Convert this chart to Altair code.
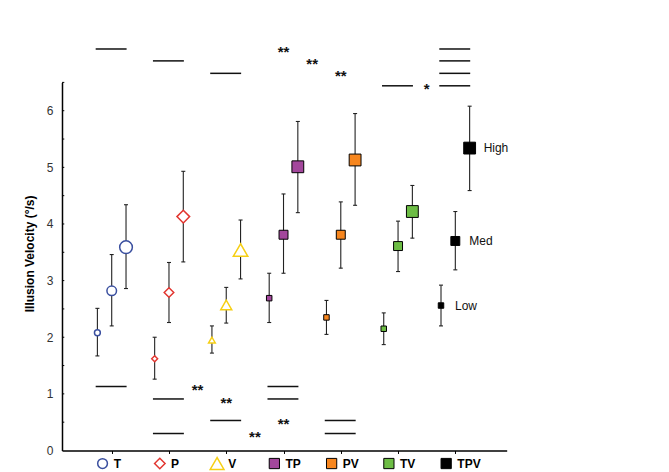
import altair as alt
import pandas as pd

# ---------------- data ----------------
conditions = ["T", "P", "V", "TP", "PV", "TV", "TPV"]
levels = ["Low", "Med", "High"]

mean_low = [2.08, 1.62, 1.95, 2.69, 2.35, 2.15, 2.56]
upper_low = [2.51, 2.00, 2.20, 3.13, 2.65, 2.43, 2.92]
lower_low = [1.67, 1.26, 1.72, 2.26, 2.05, 1.87, 2.20]

mean_med = [2.82, 2.79, 2.57, 3.81, 3.81, 3.61, 3.70]
upper_med = [3.46, 3.32, 2.88, 4.53, 4.39, 4.05, 4.22]
lower_med = [2.20, 2.26, 2.25, 3.13, 3.22, 3.16, 3.19]

mean_high = [3.59, 4.13, 3.54, 5.01, 5.13, 4.22, 5.34]
upper_high = [4.34, 4.93, 4.07, 5.81, 5.95, 4.68, 6.08]
lower_high = [2.86, 3.33, 3.03, 4.20, 4.33, 3.75, 4.59]

# significance bars (condition, height)
sig_line_cond = ["T", "P", "V", "TV", "TPV", "TPV", "TPV", "TPV",
                 "T", "P", "P", "V", "TP", "TP", "PV", "PV"]
sig_line_y = [7.09, 6.88, 6.66, 6.44, 7.09, 6.88, 6.66, 6.44,
              1.13, 0.91, 0.30, 0.53, 1.13, 0.91, 0.53, 0.30]

# significance stars (text, position between conditions, height)
star_text = ["**", "**", "**", "*", "**", "**", "**", "**"]
star_x = [3.0, 3.5, 4.0, 5.5, 1.5, 2.0, 2.5, 3.0]
star_y = [7.09, 6.88, 6.66, 6.44, 1.12, 0.89, 0.29, 0.52]

y_tick_labels = [0, 1, 2, 3, 4, 5, 6]
y_title = "Illusion Velocity (°/s)"

# ---------------- styles ----------------
FONT = "Liberation Sans"
level_offset = {"Low": -0.25, "Med": 0.0, "High": 0.25}
shape_map = {"T": "circle", "P": "diamond", "V": "triangle-up", "TP": "square",
             "PV": "square", "TV": "square", "TPV": "square"}
fill_map = {"T": "white", "P": "white", "V": "white", "TP": "#a3479c",
            "PV": "#f7861e", "TV": "#6dbd45", "TPV": "#000000"}
stroke_map = {"T": "#3a4f9f", "P": "#e2352f", "V": "#f6cf14", "TP": "#000000",
              "PV": "#000000", "TV": "#000000", "TPV": "#000000"}
base_size = {"Low": 30, "Med": 80, "High": 140}
shape_mult = {"circle": 1.15, "diamond": 1.15, "triangle-up": 1.5, "square": 1.0}
legend_size = {"circle": 95, "diamond": 110, "triangle-up": 190, "square": 105}

XMIN, XMAX = -0.868, 6.897
xscale = alt.Scale(domain=[XMIN, XMAX], nice=False, zero=False)
yscale = alt.Scale(domain=[0, 6.5], nice=False, zero=False)

x_axis = alt.Axis(values=list(range(7)), labels=False, ticks=True, tickSize=3,
                  tickColor="#000", tickWidth=1, domainColor="#000",
                  domainWidth=1.5, grid=False, title=None)
y_axis = alt.Axis(values=y_tick_labels, ticks=False, tickSize=0, grid=False,
                  domainColor="#000", domainWidth=1.5, labelPadding=9,
                  labelFont=FONT, labelFontSize=12, labelColor="#333",
                  title=y_title, titleFont=FONT, titleFontSize=12,
                  titleFontWeight="bold", titleColor="#000", titleAngle=270,
                  titleX=-32, titleY=171, titleAlign="center",
                  titleBaseline="middle")


def X(field):
    return alt.X(field, type="quantitative", scale=xscale, axis=x_axis)


def Y(field):
    return alt.Y(field, type="quantitative", scale=yscale, axis=y_axis)


# ---------------- build tables ----------------
rows = []
series = {"Low": (mean_low, upper_low, lower_low),
          "Med": (mean_med, upper_med, lower_med),
          "High": (mean_high, upper_high, lower_high)}
for lv in levels:
    m, u, l = series[lv]
    for i, c in enumerate(conditions):
        shp = shape_map[c]
        rows.append({
            "cond": c, "level": lv,
            "x": i + level_offset[lv],
            "xl": i + level_offset[lv] - 0.035,
            "xr": i + level_offset[lv] + 0.035,
            "mean": m[i], "upper": u[i], "lower": l[i],
            "shape": shp, "fill": fill_map[c], "stroke": stroke_map[c],
            "size": base_size[lv] * shape_mult[shp],
            "sw": 1.5 if shp != "square" else 1.0,
        })
df = pd.DataFrame(rows)

sig_df = pd.DataFrame({
    "x1": [conditions.index(c) - 0.28 for c in sig_line_cond],
    "x2": [conditions.index(c) + 0.26 for c in sig_line_cond],
    "y": sig_line_y,
})
star_df = pd.DataFrame({"t": star_text, "x": star_x, "y": star_y})

lab_df = pd.DataFrame({
    "cond": conditions,
    "x": list(range(len(conditions))),
    "xs": [i - 0.16 for i in range(len(conditions))],
    "y": [-0.23] * len(conditions),
    "shape": [shape_map[c] for c in conditions],
    "fill": [fill_map[c] for c in conditions],
    "stroke": [stroke_map[c] for c in conditions],
    "size": [legend_size[shape_map[c]] for c in conditions],
    "sw": [1.5 if shape_map[c] != "square" else 1.0 for c in conditions],
})

ytick_df = pd.DataFrame({"y": [k * 0.5 for k in range(1, 14)],
                         "x1": [XMIN] * 13, "x2": [XMIN + 0.04] * 13})

# ---------------- layers ----------------
yticks = alt.Chart(ytick_df).mark_rule(color="#000", strokeWidth=1).encode(
    x=X("x1"), x2="x2", y=Y("y"))

err = alt.Chart(df).mark_rule(color="#222", strokeWidth=1.1).encode(
    x=X("x"), y=Y("lower"), y2="upper")
cap_top = alt.Chart(df).mark_rule(color="#222", strokeWidth=1.1).encode(
    x=X("xl"), x2="xr", y=Y("upper"))
cap_bot = alt.Chart(df).mark_rule(color="#222", strokeWidth=1.1).encode(
    x=X("xl"), x2="xr", y=Y("lower"))

pts = alt.Chart(df).mark_point(filled=False, opacity=1).encode(
    x=X("x"), y=Y("mean"),
    shape=alt.Shape("shape:N", scale=None),
    fill=alt.Fill("fill:N", scale=None),
    stroke=alt.Stroke("stroke:N", scale=None),
    size=alt.Size("size:Q", scale=None),
    strokeWidth=alt.StrokeWidth("sw:Q", scale=None),
)

lvl_labels = alt.Chart(df[df["cond"] == "TPV"]).mark_text(
    align="left", baseline="middle", dx=14, font=FONT, fontSize=12,
    color="#111").encode(x=X("x"), y=Y("mean"), text="level:N")

sig_lines = alt.Chart(sig_df).mark_rule(color="#111", strokeWidth=1.5).encode(
    x=X("x1"), x2="x2", y=Y("y"))

stars = alt.Chart(star_df).mark_text(
    align="center", baseline="alphabetic", dy=8, font=FONT, fontSize=15,
    fontWeight="bold", color="#111").encode(x=X("x"), y=Y("y"), text="t:N")

lab_sym = alt.Chart(lab_df).mark_point(filled=False, opacity=1).encode(
    x=X("xs"), y=Y("y"),
    shape=alt.Shape("shape:N", scale=None),
    fill=alt.Fill("fill:N", scale=None),
    stroke=alt.Stroke("stroke:N", scale=None),
    size=alt.Size("size:Q", scale=None),
    strokeWidth=alt.StrokeWidth("sw:Q", scale=None),
)
lab_txt = alt.Chart(lab_df).mark_text(
    align="left", baseline="middle", dx=2, font=FONT, fontSize=12,
    fontWeight="bold", color="#000").encode(x=X("x"), y=Y("y"), text="cond:N")

chart = alt.layer(
    yticks, sig_lines, stars, err, cap_top, cap_bot, pts,
    lvl_labels, lab_sym, lab_txt
).properties(
    width=444.7, height=368.1,
    autosize=alt.AutoSizeParams(type="none"),
    padding={"left": 54, "top": 74.4, "right": 150, "bottom": 20},
    background="white",
).configure_view(stroke=None)

chart.save("out.html", embed_options={"renderer": "svg", "actions": False})
